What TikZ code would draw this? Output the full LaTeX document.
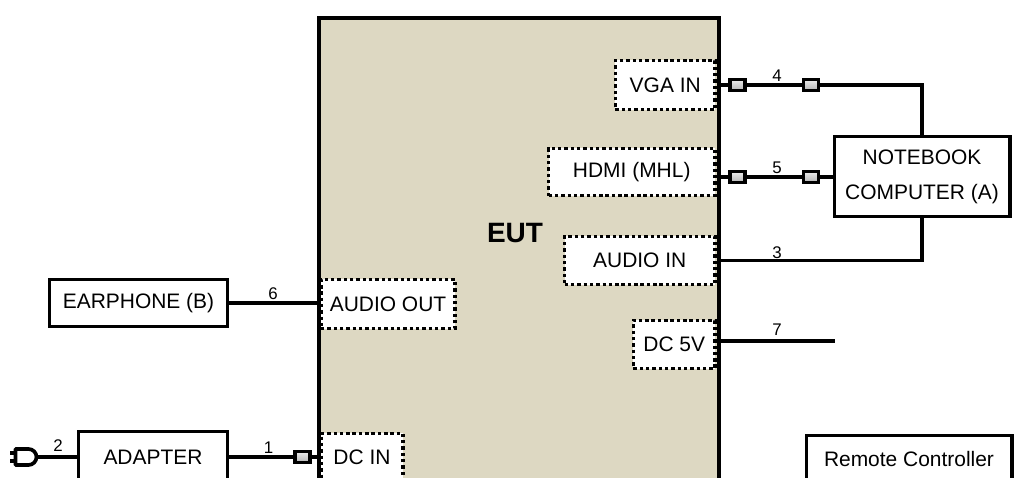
\documentclass[tikz,border=0pt]{standalone}
\usepackage{fontspec}
\setmainfont{Liberation Sans}
\usetikzlibrary{calc,positioning}
\definecolor{eutfill}{RGB}{221,216,194}

\begin{document}
\begin{tikzpicture}[x=0.025cm, y=-0.025cm,
    devbox/.style={draw=black, line width=2.8pt, fill=white, inner sep=0pt,
        align=center, font=\fontsize{14.9pt}{24.9pt}\selectfont},
    dotbox/.style={draw=black, line width=2.4pt, dash pattern=on 2.4pt off 2.1pt,
        fill=white, inner sep=0pt, font=\fontsize{14.9pt}{18pt}\selectfont},
    portbox/.style={draw=black, line width=2.6pt, top color=gray!15, bottom color=gray!60,
        minimum width=0.38cm, minimum height=0.28cm, inner sep=0pt},
    wire/.style={line width=2.8pt, black},
    numlabel/.style={inner sep=0pt, font=\fontsize{12pt}{14pt}\selectfont}]

    % 画布范围：与原图一致，超出部分裁掉
    \useasboundingbox (0,0) rectangle (1019,478);
    \clip (0,0) rectangle (1019,478);

    % EUT 主体框：米色填充，下沿超出画布
    \node[draw=black, line width=2.8pt, fill=eutfill, inner sep=0pt,
        minimum width=9.99cm, minimum height=12.55cm] (eut) at (518.75,269) {};
    \node[font=\bfseries\fontsize{19.9pt}{22pt}\selectfont, inner sep=0pt] (eutname) at (515,233) {EUT};

    % EUT 上的端口（虚点框）
    \node[dotbox, minimum width=2.49cm, minimum height=1.225cm] (vga) at (665.25,85) {VGA IN};
    \node[dotbox, minimum width=4.16cm, minimum height=1.175cm] (hdmi) at (631.75,172) {HDMI (MHL)};
    \node[dotbox, minimum width=3.76cm, minimum height=1.2cm] (audioin) at (639.75,260.5) {AUDIO IN};
    \node[dotbox, minimum width=2.04cm, minimum height=1.2cm] (dcfive) at (674.25,344.5) {DC 5V};
    \node[dotbox, minimum width=3.35cm, minimum height=1.225cm] (audioout) at (388,304) {AUDIO OUT};
    \node[dotbox, minimum width=2.05cm, minimum height=1.2cm] (dcin) at (362,457.5) {DC IN};

    % 外部设备
    \node[devbox, minimum width=4.375cm, minimum height=2cm] (notebook) at (922,176.5) {NOTEBOOK\\COMPUTER (A)};
    \node[devbox, minimum width=4.45cm, minimum height=1.175cm] (earphone) at (138.5,303) {EARPHONE (B)};
    \node[devbox, minimum width=3.725cm, minimum height=1.275cm] (adapter) at (153,457) {ADAPTER};
    \node[devbox, minimum width=5.125cm, minimum height=1.175cm] (remote) at (909,459) {Remote Controller};

    % 线缆上的接头
    \node[portbox] (vgaA) at (737.5,85) {};
    \node[portbox] (vgaB) at (811,85) {};
    \node[portbox] (hdmiA) at (737.5,177) {};
    \node[portbox] (hdmiB) at (811,177) {};
    \node[portbox] (dcinA) at (302.5,457) {};

    % 线缆
    \draw[wire] (vga.east) -- (vgaA) -- (vgaB) -| (notebook.north);
    \draw[wire] (hdmiA -| eut.east) -- (hdmiA) -- (hdmiB) -- (hdmiB -| notebook.west);
    \draw[wire] (audioin.east) -| (notebook.south);
    \coordinate (dcfiveend) at (835,341);
    \draw[wire] (dcfiveend -| eut.east) -- (dcfiveend);
    \draw[wire] (earphone.east) -- (earphone.east -| eut.west);
    \draw[wire] (adapter.east) -- (dcinA) -- (dcinA -| eut.west);

    % 电源插头
    \coordinate (plug) at (36.5,457);
    \draw[wire] (plug) -- (adapter.west);
    \draw[line width=2.6pt, line join=round]
        (15.5,465) -- (15.5,449) -- (28.5,449)
        arc[start angle=-90, end angle=90, radius=8] -- cycle;
    \draw[line width=2.6pt] (10,453) -- (15.5,453) (10,461) -- (15.5,461);

    % 线缆编号
    \node[numlabel] (nfour) at (777,76) {4};
    \node[numlabel] (nfive) at (777,168) {5};
    \node[numlabel] (nthree) at (777,253) {3};
    \node[numlabel] (nseven) at (777,330) {7};
    \node[numlabel] (nsix) at (273,294) {6};
    \node[numlabel] (none) at (268.5,447.5) {1};
    \node[numlabel] (ntwo) at (58,446) {2};
\end{tikzpicture}
\end{document}
